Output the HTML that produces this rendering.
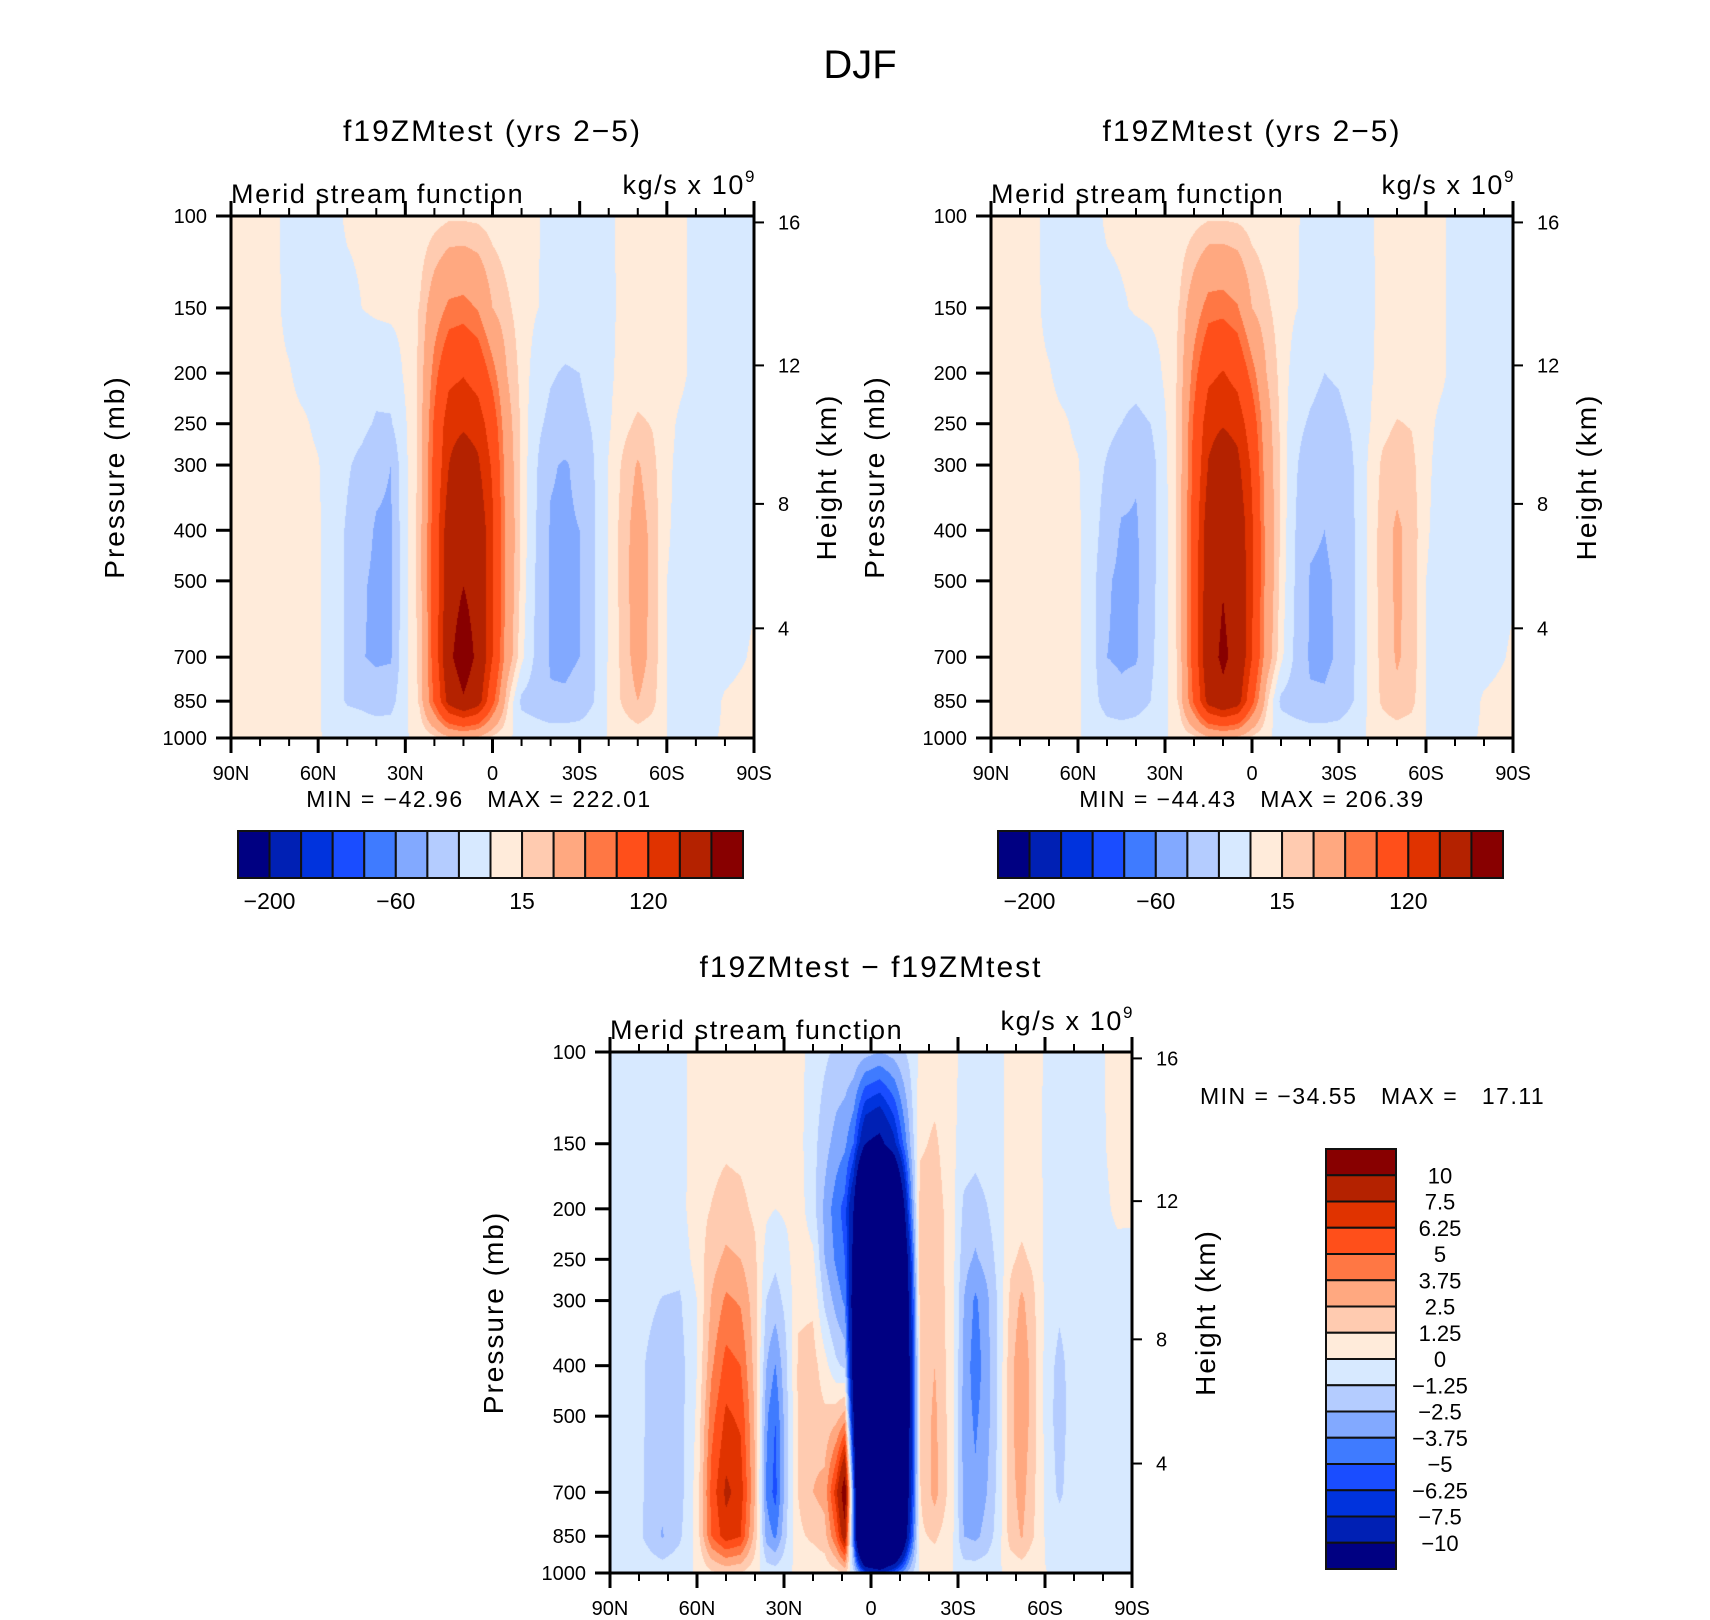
<!DOCTYPE html>
<html><head><meta charset="utf-8"><style>
html,body{margin:0;padding:0;background:#fff;}
#wrap{position:relative;width:1710px;height:1620px;overflow:hidden;background:#fff;}
canvas{position:absolute;}
svg{position:absolute;left:0;top:0;}
text{font-family:"Liberation Sans",sans-serif;fill:#000;white-space:pre;}
</style></head><body>
<div id="wrap">
<canvas id="c1"></canvas>
<canvas id="c2"></canvas>
<canvas id="c3"></canvas>
<svg id="svg" width="1710" height="1620"></svg>
</div>
<script>
// ---- data ----
const palette = ["#000082","#0020b4","#0033dd","#1a4dff","#3f7bff","#82a9ff","#b4ccff","#d7e9ff","#ffebda","#ffcbb0","#ffa880","#ff7744","#ff4f1a","#e03300","#b42200","#880000"];
const levelsMain = [-200,-150,-100,-80,-60,-40,-20,0,15,30,60,80,120,150,200];
const levelsDiff = [-10,-7.5,-6.25,-5,-3.75,-2.5,-1.25,0,1.25,2.5,3.75,5,6.25,7.5,10];
const pressureLevels = [100,150,200,250,300,400,500,700,850,1000];
const pressureTicks = [100,150,200,250,300,400,500,700,850,1000];
const heightTicks = [4,8,12,16];
const latTicks = [90,60,30,0,-30,-60,-90];
const latTickLabels = ["90N","60N","30N","0","30S","60S","90S"];
const mainBarLabels = ["−200","−60","15","120"];
const mainBarLabelIdx = [0,4,8,12];
const diffBarLabels = ["10","7.5","6.25","5","3.75","2.5","1.25","0","−1.25","−2.5","−3.75","−5","−6.25","−7.5","−10"];
// degrees from 90N for grid columns
const colsMain = [0,5,10,15,20,25,30,35,40,45,50,55,60,65,70,75,80,85,90,95,100,105,110,115,120,125,130,135,140,145,150,155,160,165,170,175,180];
const field1 = [
[5,5,5,5,5,5,5,5,5,2],[5,5,5,5,5,5,5,5,5,2],[5,5,5,5,5,5,5,5,5,2],[3,3,3,3,3,3,3,3,3,1],
[-5,-4,1,4,4,4,4,4,4,1],[-6,-6,-5,2,4,4,4,4,4,1],[-6,-6,-6,-3,1,3,3,3,3,1],
[-6,-7,-8,-8,-10,-12,-12,-12,-12,-3],[3,-6,-10,-12,-18,-22,-22,-22,-22,-5],
[4,0,-12,-15,-25,-33,-38,-39,-25,-5],[5,3,-14,-22,-35,-42,-43,-43,-30,-6],
[5,4,-12,-22,-40,-43,-43,-42,-28,-6],[5,5,3,-2,-4,-5,-5,-5,-4,-1],
[5,16,18,20,20,22,22,20,18,3],[8,45,70,85,90,95,95,95,85,10],
[12,65,110,140,150,175,178,190,165,25],[12,68,118,145,170,195,198,225,195,30],
[11,58,105,138,155,180,182,190,170,25],[8,30,70,100,115,125,125,120,90,10],
[6,18,30,40,45,50,50,45,20,2],[5,8,10,12,12,12,10,5,-25,-4],
[2,1,-8,-15,-18,-20,-22,-25,-32,-6],[-5,-5,-18,-25,-38,-42,-42,-42,-38,-8],
[-6,-8,-22,-28,-42,-43,-43,-43,-38,-8],[-5,-7,-20,-25,-35,-40,-40,-40,-35,-7],
[-4,-5,-12,-18,-20,-22,-22,-22,-20,-5],[-2,-3,-3,-2,1,2,2,2,2,1],
[3,3,5,10,18,22,22,20,18,4],[4,4,6,18,32,40,42,40,30,6],[4,4,6,14,20,25,25,24,20,4],
[4,4,4,3,2,1,0,0,0,0],[2,2,2,-2,-3,-3,-3,-3,-3,-1],[-3,-3,-3,-4,-4,-4,-4,-4,-4,-1],
[-4,-4,-4,-4,-4,-4,-4,-4,-3,-1],[-4,-4,-4,-4,-4,-4,-3,-3,1,1],
[-3,-3,-3,-3,-3,-3,-2,-1,2,2],[-2,-2,-2,-2,-2,-2,-1,1,2,2]];
const field2 = [
[5,5,5,5,5,5,5,5,5,2],[5,5,5,5,5,5,5,5,5,2],[5,5,5,5,5,5,5,5,5,2],[3,3,3,3,3,3,3,3,3,1],
[-5,-4,1,4,4,4,4,4,4,1],[-6,-6,-5,2,4,4,4,4,4,1],[-6,-6,-6,-3,1,3,3,3,3,1],
[-6,-7,-8,-8,-10,-12,-14,-14,-12,-3],[3,-6,-10,-14,-22,-30,-38,-40,-30,-6],
[4,-2,-14,-20,-32,-42,-44,-43,-35,-6],[5,2,-14,-24,-38,-42,-43,-42,-30,-6],
[5,4,-10,-20,-30,-30,-28,-25,-20,-5],[5,5,3,-2,-4,-5,-5,-5,-4,-1],
[5,16,18,20,20,22,22,20,18,3],[8,45,70,85,90,95,95,95,85,10],
[12,70,112,140,152,175,178,185,165,25],[12,72,122,148,172,195,198,207,190,30],
[11,62,108,140,158,180,182,188,170,25],[8,30,70,100,115,125,125,120,90,10],
[6,18,30,40,45,50,50,45,20,2],[5,8,10,12,12,12,10,5,-25,-4],
[2,1,-8,-15,-18,-20,-22,-25,-32,-6],[-5,-5,-15,-22,-30,-38,-41,-42,-38,-8],
[-6,-8,-20,-26,-36,-40,-42,-43,-38,-8],[-5,-7,-18,-24,-32,-36,-38,-38,-34,-7],
[-4,-5,-12,-18,-20,-22,-22,-22,-20,-5],[-2,-3,-3,-2,1,2,2,2,2,1],
[3,3,5,10,18,22,22,20,18,4],[4,4,6,16,24,33,33,32,26,5],[4,4,6,14,20,25,25,24,20,4],
[4,4,4,3,2,1,0,0,0,0],[2,2,2,-2,-3,-3,-3,-3,-3,-1],[-3,-3,-3,-4,-4,-4,-4,-4,-4,-1],
[-4,-4,-4,-4,-4,-4,-4,-4,-3,-1],[-4,-4,-4,-4,-4,-4,-3,-3,1,1],
[-3,-3,-3,-3,-3,-3,-2,-1,2,2],[-2,-2,-2,-2,-2,-2,-1,1,2,2]];
const colsDiff = [0,10,18,24,30,35,40,45,50,54,57,61,65,70,74,78,81,84,88,93,98,103,107,112,118,122,126,130,134,138,142,146,151,155,160,168,175,180];
const field3 = [
[-0.5,-0.5,-0.5,-0.5,-0.5,-0.5,-0.5,-0.5,-0.5,-0.2],
[-0.6,-0.6,-0.6,-0.6,-0.8,-1,-1,-1,-1,-0.3],
[-0.6,-0.6,-0.6,-0.8,-1.3,-2,-2,-2.2,-2.6,-0.5],
[-0.4,-0.4,-0.5,-0.8,-1.4,-1.8,-1.8,-1.8,-1.5,-0.3],
[0.5,0.5,0.8,0.5,0,0,0.2,0.5,0.5,0.1],
[0.6,0.8,1.3,2,2.6,3.5,4.5,5.5,5,1],
[0.6,1,1.8,2.8,4,5.5,6.5,7.8,7,1.5],
[0.5,0.9,1.6,2.5,3.6,5,6,7,6.3,1.2],
[0.5,0.6,1,1.5,1.8,2,2.3,2.5,2,0.4],
[0.4,0.3,0.2,-0.5,-1.3,-2.5,-3.5,-4,-3,-0.5],
[0.3,0.2,0,-1,-1.8,-3.8,-5,-5.5,-4,-0.6],
[0.3,0.3,0.2,-0.3,-0.8,-1.3,-1.5,-1.5,-1.2,-0.2],
[0.4,0.4,0.6,0.8,1,1.5,1.5,1.3,1,0.3],
[-0.5,-0.8,-0.8,0.3,1,1.8,2,2.5,1.5,0.3],
[-1,-2,-2.8,-2.5,-1.5,0.5,1.5,3,2,0.4],
[-1.5,-3,-4.5,-4,-3,-1,2,7,5,0.8],
[-1.5,-3.5,-5.5,-5,-4,-1.5,3,12,9,1.5],
[-1.5,-5,-10,-11,-12,-12,-10,-5,-5,-1],
[-2,-10,-25,-30,-33,-34,-34,-34,-30,-6],
[-2.5,-11,-28,-32,-34,-34,-34,-34,-32,-8],
[-2,-8,-20,-25,-28,-30,-30,-30,-25,-5],
[-1,-3,-6,-9,-10,-11,-11,-10,-8,-2],
[0.3,1,2,2.5,2,1.5,1.5,1.2,1,0.2],
[0.5,1.5,2,2,2.3,2.5,2.8,3,1.5,0.3],
[0.5,0.3,0.5,0.5,0.5,0.5,0.5,0.5,0.3,0],
[-0.5,-0.6,-1.5,-2,-2.5,-2.8,-3,-2.8,-2.5,-0.5],
[-0.6,-0.8,-1.8,-2.7,-4,-4.5,-4,-3.5,-2.8,-0.5],
[-0.5,-0.6,-1.3,-2,-2.8,-3,-3,-2.5,-2,-0.4],
[-0.3,-0.4,-0.5,-0.8,-1,-1,-1,-0.8,-0.6,-0.1],
[0.3,0.4,0.6,1,1.5,2,2,2,1.8,0.3],
[0.4,0.5,0.8,1.5,2.8,3.6,3.6,3,2.6,0.5],
[0.4,0.4,0.6,1,1.5,1.8,1.8,1.5,1.3,0.2],
[-0.2,-0.3,-0.3,-0.5,-0.6,-0.8,-0.8,-0.6,-0.4,0],
[-0.4,-0.4,-0.5,-0.6,-1,-1.6,-1.8,-1.5,-0.5,-0.1],
[-0.4,-0.4,-0.5,-0.5,-0.6,-0.7,-0.6,-0.5,-0.3,0],
[-0.3,-0.3,-0.4,-0.4,-0.5,-0.5,-0.4,-0.4,-0.3,0],
[0.5,0.4,0.2,-0.3,-0.5,-0.6,-0.6,-0.5,-0.6,-0.1],
[0.6,0.5,0.3,-0.5,-0.6,-0.6,-0.6,-0.6,-0.6,-0.1]];

// ---- drawing ----
const NS="http://www.w3.org/2000/svg";
const svg=document.getElementById('svg');
function mk(tag,attrs,parent){const e=document.createElementNS(NS,tag);for(const k in attrs)e.setAttribute(k,attrs[k]);(parent||svg).appendChild(e);return e;}
function txt(s,x,y,size,anchor,parent,extra){const t=mk('text',Object.assign({x:x,y:y,'font-size':size,'text-anchor':anchor||'middle'},extra||{}),parent);t.textContent=s;return t;}
function pFromZ(z){const m=z*1000;if(m<=11000)return 1013.25*Math.pow(1-0.0065*m/288.15,5.255);return 226.32*Math.exp(-(m-11000)/6341.6);}

function interp(cols,grid,d,lp){
  let i=0;while(i<cols.length-2&&d>cols[i+1])i++;
  const tx=Math.max(0,Math.min(1,(d-cols[i])/(cols[i+1]-cols[i])));
  const lps=pressureLevels.map(p=>Math.log10(p));
  let j=0;while(j<lps.length-2&&lp>lps[j+1])j++;
  const ty=Math.max(0,Math.min(1,(lp-lps[j])/(lps[j+1]-lps[j])));
  const a=grid[i][j],b=grid[i+1][j],c=grid[i][j+1],e=grid[i+1][j+1];
  return (a*(1-tx)+b*tx)*(1-ty)+(c*(1-tx)+e*tx)*ty;
}
function hex(h){return [parseInt(h.slice(1,3),16),parseInt(h.slice(3,5),16),parseInt(h.slice(5,7),16)];}
const rgb=palette.map(hex);

function panel(o){
  const g=mk('g',{});
  
  
  const X=o.x,Y=o.y,W=o.w,H=o.h;
  const xs=lat=>X+(90-lat)/180*W;
  const ys=p=>Y+Math.log10(p/100)*H;
  const cv=document.getElementById(o.canvas);
  cv.width=W;cv.height=H;cv.style.left=X+'px';cv.style.top=Y+'px';
  const ctx=cv.getContext('2d');const im=ctx.createImageData(W,H);
  for(let py=0;py<H;py++){const lp=2+(py+0.5)/H;
    for(let px=0;px<W;px++){const d=(px+0.5)/W*180;
      const v=interp(o.cols,o.field,d,lp);
      let k=0;while(k<o.levels.length&&v>=o.levels[k])k++;
      const c=rgb[k];const q=(py*W+px)*4;im.data[q]=c[0];im.data[q+1]=c[1];im.data[q+2]=c[2];im.data[q+3]=255;}}
  ctx.putImageData(im,0,0);
  const fr=mk('rect',{x:X,y:Y,width:W,height:H,fill:'none',stroke:'#000','stroke-width':3},g);
  
  for(let l=90;l>=-90;l-=10){const x=xs(l);const major=(l%30===0);const len=major?15:8;
    mk('line',{x1:x,x2:x,y1:Y,y2:Y-len,stroke:'#000','stroke-width':major?3:2},g);
    mk('line',{x1:x,x2:x,y1:Y+H,y2:Y+H+len,stroke:'#000','stroke-width':major?3:2},g);}
  latTicks.forEach((l,i)=>{const t=txt(latTickLabels[i],xs(l),Y+H+42,20,'middle',g);
    });
  pressureTicks.forEach(p=>{const y=ys(p);mk('line',{x1:X,x2:X-15,y1:y,y2:y,stroke:'#000','stroke-width':3},g);
    const t=txt(String(p),X-24,y+7,20,'end',g);});
  heightTicks.forEach(z=>{const y=ys(pFromZ(z));mk('line',{x1:X+W,x2:X+W+10,y1:y,y2:y,stroke:'#000','stroke-width':2},g);
    const t=txt(String(z),X+W+24,y+7,20,'start',g);});
  const yl=txt('Pressure (mb)',0,0,28,'middle',g,{transform:`translate(${o.plx},${Y+H/2}) rotate(-90)`,'letter-spacing':'2'});
  
  const hl=txt('Height (km)',0,0,28,'middle',g,{transform:`translate(${o.hlx},${Y+H/2}) rotate(-90)`,'letter-spacing':'2'});
  
  const st=txt('Merid stream function',X,Y-13,27,'start',g,{'letter-spacing':'1.6'});
  
  const un=mk('text',{x:X+W+2,y:Y-22,'font-size':27,'text-anchor':'end','letter-spacing':'1.6'},g);
  
  un.appendChild(document.createTextNode('kg/s x 10'));
  const sup=mk('tspan',{'font-size':17,dy:-12},un);sup.textContent='9';
  const ti=txt(o.title,X+W/2,Y-75,30,'middle',g,{'letter-spacing':'2'});
  
  return {xs,ys};
}

const dj=txt('DJF',860,78,40,'middle');

panel({name:'panel-test-1',canvas:'c1',x:231,y:216,w:523,h:522,cols:colsMain,field:field1,levels:levelsMain,title:'f19ZMtest (yrs 2−5)',plx:124,hlx:836});
panel({name:'panel-test-2',canvas:'c2',x:991,y:216,w:522,h:522,cols:colsMain,field:field2,levels:levelsMain,title:'f19ZMtest (yrs 2−5)',plx:884,hlx:1596});
panel({name:'panel-difference',canvas:'c3',x:610,y:1052,w:522,h:521,cols:colsDiff,field:field3,levels:levelsDiff,title:'f19ZMtest − f19ZMtest',plx:503,hlx:1215});

let t;
t=txt('MIN = −42.96   MAX = 222.01',479,807,23,'middle',null,{'letter-spacing':'1.5'});
t=txt('MIN = −44.43   MAX = 206.39',1252,807,23,'middle',null,{'letter-spacing':'1.5'});
t=txt('MIN = −34.55   MAX =   17.11',1200,1104,23,'start',null,{'letter-spacing':'1.5'});

function hbar(x0,name){
  const g=mk('g',{});
  const w=(743-238)/16;
  palette.forEach((c,i)=>{const r=mk('rect',{x:x0+i*w,y:831,width:w,height:47,fill:c,stroke:'#111','stroke-width':2},g);
    });
  mainBarLabels.forEach((s,k)=>{const tt=txt(s,x0+(mainBarLabelIdx[k]+1)*w,909,23,'middle',g);
    });
}
hbar(238,'colorbar-panel-1');
hbar(998,'colorbar-panel-2');

(function(){
  const g=mk('g',{});
  const top=1149,h=(1569-1149)/16;
  for(let i=0;i<16;i++){const r=mk('rect',{x:1326,y:top+i*h,width:70,height:h,fill:palette[15-i],stroke:'#111','stroke-width':2},g);
    }
  diffBarLabels.forEach((s,i)=>{const tt=txt(s,1440,top+(i+1)*h+8,22,'middle',g);
    });
})();
</script>
</body></html>
